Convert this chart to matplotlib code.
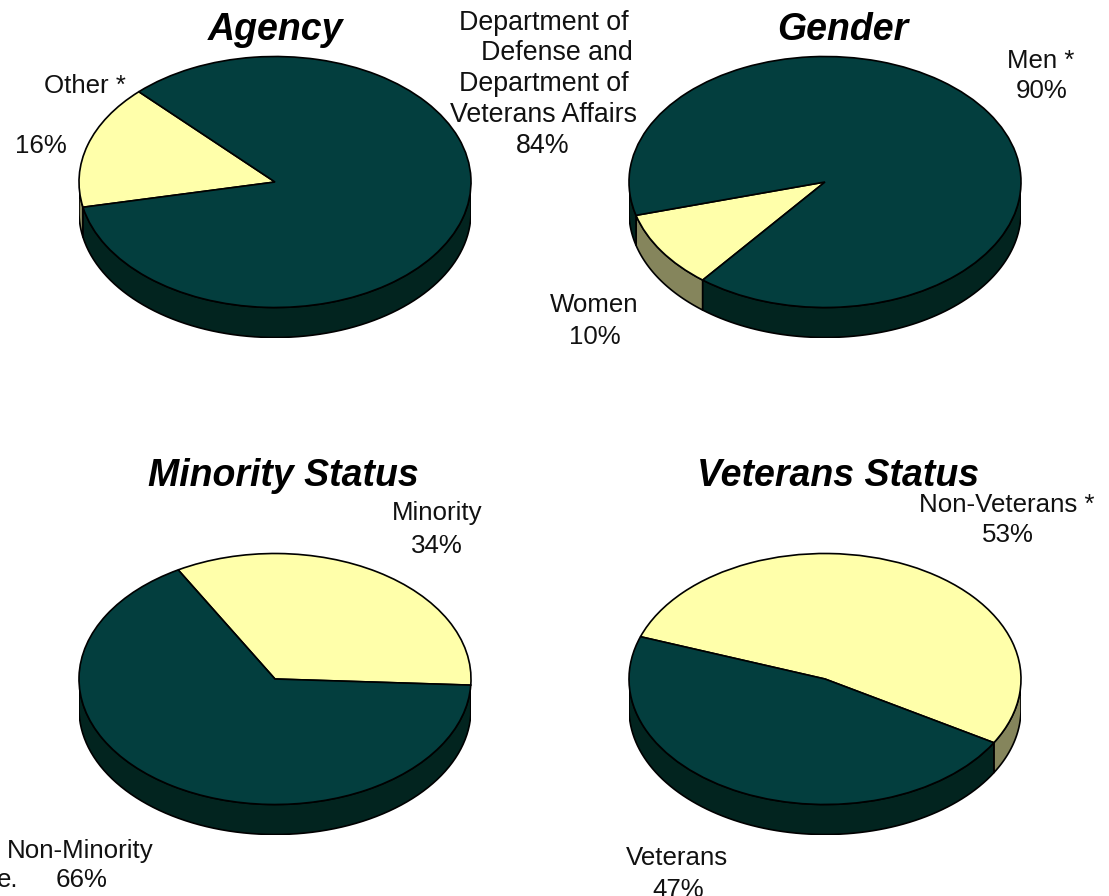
import numpy as np
import matplotlib
matplotlib.use("Agg")
import matplotlib.pyplot as plt
from matplotlib.patches import Polygon

W, H = 1109, 896
plt.rcParams['font.family'] = ['Liberation Sans', 'DejaVu Sans']

DARK, YELLOW = '#033e3e', '#ffffaa'
DARK_SIDE, YELLOW_SIDE = '#02241f', '#85855c'

agency_values = [16, 84]
gender_values = [10, 90]
minority_values = [34, 66]
veterans_values = [53, 47]
agency_start, gender_start, minority_start, veterans_start = 134, 195.4, -2.8, -30.5

fig = plt.figure(figsize=(W / 100, H / 100), dpi=100, facecolor='white')

RX, RY, DEPTH = 196, 125.5, 30
dy = DEPTH / RY


def pie3d(cx, cy, values, start):
    ax = fig.add_axes([(cx - RX) / W, 1 - (cy + RY + DEPTH) / H, 2 * RX / W, (2 * RY + DEPTH) / H])
    ax.set_axis_off()
    colors = [YELLOW, DARK]
    sides = [YELLOW_SIDE, DARK_SIDE]
    total = sum(values)
    a = start
    for v, sc in zip(values, sides):
        b = a + 360 * v / total
        # visible wall: front half of the rim (180..360 and equivalents)
        for k in (-1, 0, 1):
            lo, hi = max(a, 180 + 360 * k), min(b, 360 + 360 * k)
            if hi > lo:
                t = np.radians(np.linspace(lo, hi, 80))
                x, y = np.cos(t), np.sin(t)
                pts = np.r_[np.c_[x, y], np.c_[x[::-1], y[::-1] - dy]]
                ax.add_patch(Polygon(pts, closed=True, facecolor=sc, edgecolor='black', linewidth=1.2))
        a = b
    ax.pie(values, colors=colors, startangle=start, counterclock=True,
           wedgeprops=dict(edgecolor='black', linewidth=1.2))
    ax.set_aspect('auto')
    ax.set_xlim(-1, 1)
    ax.set_ylim(-1 - dy, 1)


pie3d(275, 182, agency_values, agency_start)
pie3d(825, 182, gender_values, gender_start)
pie3d(275, 679, minority_values, minority_start)
pie3d(825, 679, veterans_values, veterans_start)


def txt(x, y, s, **kw):
    kw.setdefault('fontsize', 18.6)
    kw.setdefault('color', '#111111')
    fig.text(x / W, 1 - y / H, s, ha='center', va='baseline', **kw)


title = dict(fontsize=27, fontweight='bold', fontstyle='italic', color='black')
txt(276, 40, 'Agency', **title)
txt(843, 40, 'Gender', **title)
txt(283, 486, 'Minority Status', **title)
txt(838, 486, 'Veterans Status', **title)

labels = [
    (85, 93, 'Other *'), (41, 153, '16%'),
    (1041, 68, 'Men *'), (1042, 98, '90%'),
    (594, 312, 'Women'), (595, 344, '10%'),
    (437, 520, 'Minority'), (437, 553, '34%'),
    (1006.5, 512, 'Non-Veterans *'), (1008, 542, '53%'),
    (80, 858, 'Non-Minority'), (82, 887, '66%'), (8, 887, 'e.'),
    (677, 865, 'Veterans'), (678, 897, '47%'),
]
for x, y, s in labels:
    txt(x, y, s)

dept_labels = [
    (544, 30, 'Department of'), (557, 60, 'Defense and'), (544, 91, 'Department of'),
    (544, 122, 'Veterans Affairs'), (543, 153, '84%'),
]
for x, y, s in dept_labels:
    txt(x, y, s, fontsize=19.3)

fig.savefig('out.png', dpi=100)
